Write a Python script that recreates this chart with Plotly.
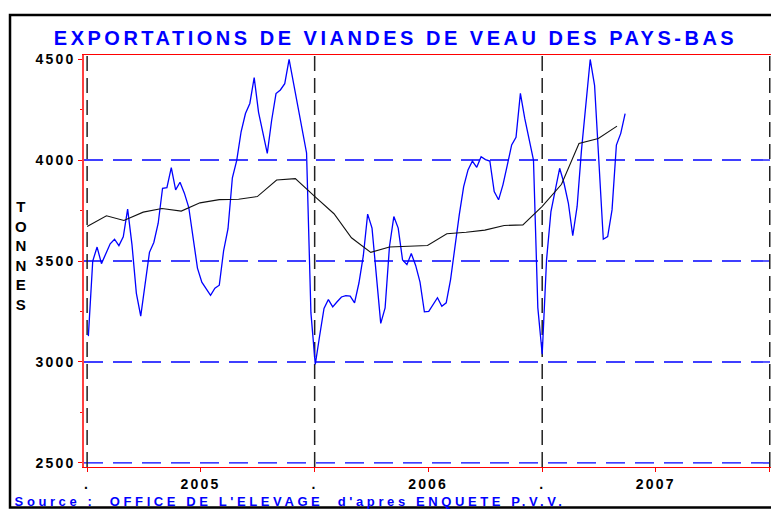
import plotly.graph_objects as go
import pandas as pd

# Weekly exports (tonnes), first week starting 2005-01-03
weekly_tonnes = [
    3128, 3500, 3569, 3487, 3536, 3585, 3608, 3576, 3620, 3757,
    3580, 3340, 3227, 3375, 3543, 3592, 3687, 3860, 3863, 3962,
    3852, 3890, 3836, 3766, 3605, 3465, 3395, 3360, 3330, 3365,
    3380, 3552, 3660, 3912, 3998, 4140, 4230, 4280, 4408, 4236,
    4133, 4033, 4197, 4329, 4347, 4378, 4498, 4380, 4255, 4156,
    4035, 3243, 2988, 3130, 3265, 3309, 3273, 3298, 3322, 3329,
    3326, 3293, 3391, 3525, 3732, 3663, 3424, 3191, 3268, 3572,
    3720, 3663, 3505, 3482, 3537, 3478, 3395, 3248, 3251, 3284,
    3318, 3276, 3293, 3408, 3572, 3730, 3868, 3951, 3995, 3964,
    4016, 4002, 3995, 3844, 3803, 3877, 3975, 4075, 4112, 4330,
    4206, 4107, 4000, 3268, 3038, 3507, 3745, 3852, 3959, 3885,
    3786, 3625, 3770, 4049, 4280, 4498, 4370, 3990, 3608, 3621,
    3753, 4074, 4132, 4230,
]

# Smoothed (monthly) series, Jan 2005 .. May 2007
monthly_trend = [
    3671, 3724, 3701, 3742, 3760, 3747, 3788, 3804, 3806, 3819, 3901, 3908,
    3820, 3734, 3615, 3543, 3569, 3573, 3577, 3635, 3642, 3653, 3676, 3679,
    3770, 3880, 4082, 4107, 4168,
]

x_tick_vals = ["2005-01-01", "2005-07-02", "2006-01-01", "2006-07-02",
               "2007-01-01", "2007-07-02", "2008-01-01"]
x_tick_text = [".", "2005", ".", "2006", ".", "2007", "."]
y_tick_vals = [2500, 3000, 3500, 4000, 4500]
grid_levels = [2500, 3000, 3500, 4000]
year_lines = ["2005-01-01", "2006-01-01", "2007-01-01", "2008-01-01"]

title_text = "EXPORTATIONS DE VIANDES DE VEAU DES PAYS-BAS"
source_text = "Source :  OFFICE DE L'ELEVAGE  d'apres ENQUETE P.V.V."
y_title = "TONNES"

week_dates = pd.date_range("2005-01-03", periods=len(weekly_tonnes), freq="7D")
month_dates = pd.date_range("2005-01-01", periods=len(monthly_trend), freq="MS")

FONT = "Liberation Sans"

fig = go.Figure()

shapes = []
for lvl in grid_levels:
    shapes.append(dict(type="line", xref="paper", yref="y", x0=0, x1=1, y0=lvl, y1=lvl,
                       line=dict(color="#0000FF", width=1.3, dash="19px,10px"), layer="below"))
for d in year_lines:
    shapes.append(dict(type="line", xref="x", yref="paper", x0=d, x1=d, y0=0, y1=1,
                       line=dict(color="#222222", width=1.5, dash="15px,7px"), layer="below"))
# outer frame
shapes.append(dict(type="rect", xref="paper", yref="paper",
                   x0=-0.1077, x1=1.05, y0=-0.0983, y1=1.097,
                   line=dict(color="black", width=2.5), fillcolor="rgba(0,0,0,0)"))

fig.add_trace(go.Scatter(x=week_dates, y=weekly_tonnes, mode="lines",
                         line=dict(color="#0000FF", width=1.3), showlegend=False))
fig.add_trace(go.Scatter(x=month_dates, y=monthly_trend, mode="lines",
                         line=dict(color="#111111", width=1.1), showlegend=False))

fig.update_layout(
    width=771, height=509,
    margin=dict(l=84, r=0, t=55, b=42),
    paper_bgcolor="white", plot_bgcolor="white",
    showlegend=False,
    title=dict(text=title_text, x=0.513, xanchor="center", y=0.925, yanchor="middle",
               font=dict(family=FONT, size=20, color="#0000FF", weight="bold")),
    shapes=shapes,
    annotations=[
        dict(text=source_text, xref="paper", yref="paper", x=0.2995, y=-0.084,
             xanchor="center", yanchor="middle", showarrow=False,
             font=dict(family=FONT, size=13, color="#0000FF", weight="bold")),
        dict(text="<br>".join(list(y_title)), xref="paper", yref="paper", x=-0.0924, y=0.513,
             xanchor="center", yanchor="middle", showarrow=False,
             font=dict(family=FONT, size=15, color="black", weight="bold")),
    ],
)

fig.update_xaxes(
    type="date", range=["2004-12-27", "2008-01-03"],
    tickvals=x_tick_vals, ticktext=x_tick_text,
    ticks="outside", ticklen=4, tickcolor="#FF0000", tickwidth=1,
    showline=True, linecolor="#FF0000", linewidth=1, mirror=True,
    showgrid=False, zeroline=False,
    tickfont=dict(family=FONT, size=14, color="black", weight="bold"),
)
fig.update_yaxes(
    range=[2480, 4520],
    tickvals=y_tick_vals, ticktext=[str(v) for v in y_tick_vals],
    ticks="outside", ticklen=4, tickcolor="#FF0000", tickwidth=1,
    showline=True, linecolor="#FF4040", linewidth=1.5, mirror=False,
    showgrid=False, zeroline=False,
    minor=dict(dtick=250, ticks="outside", ticklen=2, tickcolor="#FF0000", showgrid=False),
    tickfont=dict(family=FONT, size=14, color="black", weight="bold"),
)

post = """
document.body.style.margin = '0';
document.body.style.overflow = 'hidden';
var gd = document.getElementById('{plot_id}');
function spacing(){
  gd.querySelectorAll('.gtitle').forEach(function(e){ e.style.letterSpacing='3.5px'; });
  gd.querySelectorAll('.xtick text, .ytick text').forEach(function(e){ e.style.letterSpacing='2.2px'; });
  gd.querySelectorAll('.annotation-text').forEach(function(e){
    if ((e.textContent||'').indexOf('Source') === 0) { e.style.letterSpacing='3.6px'; }
  });
}
spacing();
gd.on('plotly_afterplot', spacing);
"""

fig.write_html("out.html", post_script=post, config={"displayModeBar": False})
